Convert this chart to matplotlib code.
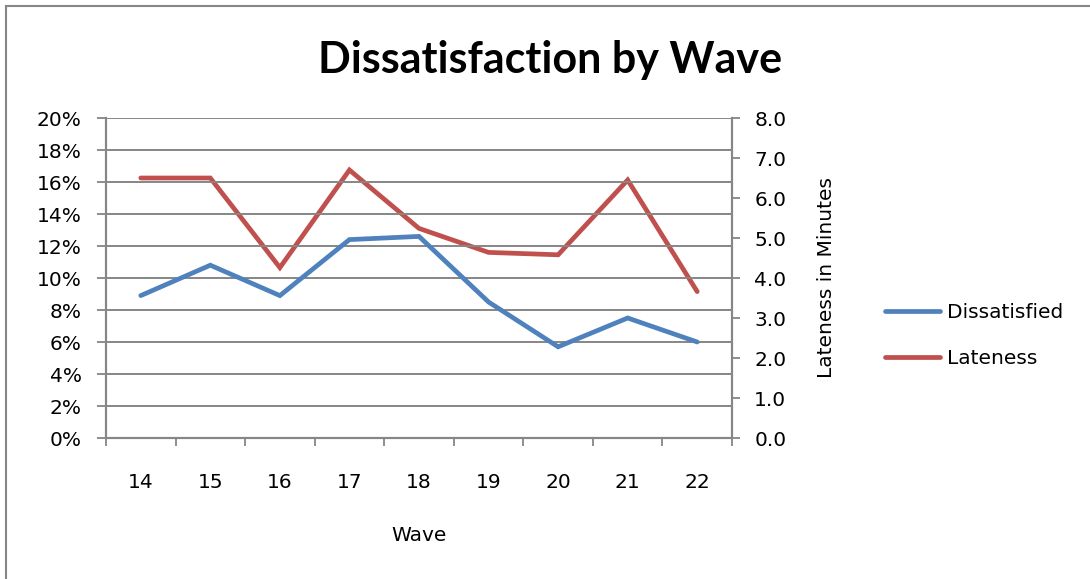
import numpy as np
import matplotlib
matplotlib.use('Agg')
import matplotlib.pyplot as plt
from matplotlib.patches import Rectangle

waves = ['14', '15', '16', '17', '18', '19', '20', '21', '22']
dissatisfied = [8.9, 10.8, 8.9, 12.4, 12.6, 8.5, 5.7, 7.5, 6.0]
lateness = [6.5, 6.5, 4.26, 6.7, 5.24, 4.64, 4.58, 6.45, 3.66]

plt.rcParams['font.family'] = ['DejaVu Sans']
fs = 14.5
grey = '#868686'
blue = '#4F81BD'
red = '#C0504D'

fig = plt.figure(figsize=(10.9, 5.79), dpi=100)
# chart area border (cut at right and bottom in the original)
fig.patches.append(Rectangle((5.5/1090, -0.1), 1.2, 1.1 - 6.5/579, transform=fig.transFigure,
                             fill=False, edgecolor=grey, linewidth=1.5))

ax = fig.add_axes([106/1090, 1 - 438/579, 626/1090, 320/579])
ax2 = ax.twinx()

x = np.arange(len(waves))
l1, = ax.plot(x, dissatisfied, color=blue, lw=3.4, solid_capstyle='round', solid_joinstyle='miter')
l2, = ax2.plot(x, lateness, color=red, lw=3.4, solid_capstyle='round', solid_joinstyle='miter')
ax.set_zorder(ax2.get_zorder() + 1)
ax.patch.set_visible(False)

ax.set_xlim(-0.5, len(waves) - 0.5)
ax.set_ylim(0, 20)
ax2.set_ylim(0, 8)
ax.set_yticks(np.arange(0, 21, 2))
ax.set_yticklabels(['%d%%' % v for v in range(0, 21, 2)])
ax2.set_yticks(np.arange(0, 9, 1))
ax2.set_yticklabels(['%.1f' % v for v in range(0, 9)])

ax.set_xticks(np.arange(-0.5, len(waves), 1))
ax.set_xticklabels([])
ax.set_xticks(x, minor=True)
ax.set_xticklabels(waves, minor=True)
ax.tick_params(axis='x', which='major', length=6, width=1.3, color=grey)
ax.tick_params(axis='x', which='minor', length=0, pad=25, labelsize=fs)
ax.tick_params(axis='y', length=6.5, width=1.3, color=grey, pad=11, labelsize=fs)
ax2.tick_params(axis='y', length=6, width=1.3, color=grey, pad=10, labelsize=fs)

ax.grid(axis='y', color=grey, lw=1.4)
ax.set_axisbelow(True)
for a in (ax, ax2):
    a.spines['top'].set_visible(False)
    for s in ('left', 'right', 'bottom'):
        a.spines[s].set_color(grey)
        a.spines[s].set_linewidth(1.5)

ax.set_xlabel('Wave', fontsize=fs, labelpad=25)
ax2.set_ylabel('Lateness in Minutes', fontsize=fs, labelpad=22)

fig.text(550/1090, 1 - 60/579, 'Dissatisfaction by Wave', fontsize=31, fontweight='bold',
         ha='center', va='center', family=['Lato', 'DejaVu Sans'])

fig.legend([l1, l2], ['Dissatisfied', 'Lateness'], loc='center left',
           bbox_to_anchor=(867/1090, 1 - 335.5/579), frameon=False, fontsize=fs,
           handlelength=2.7, labelspacing=1.38, handletextpad=0.35)

fig.savefig('out.png', dpi=100)
